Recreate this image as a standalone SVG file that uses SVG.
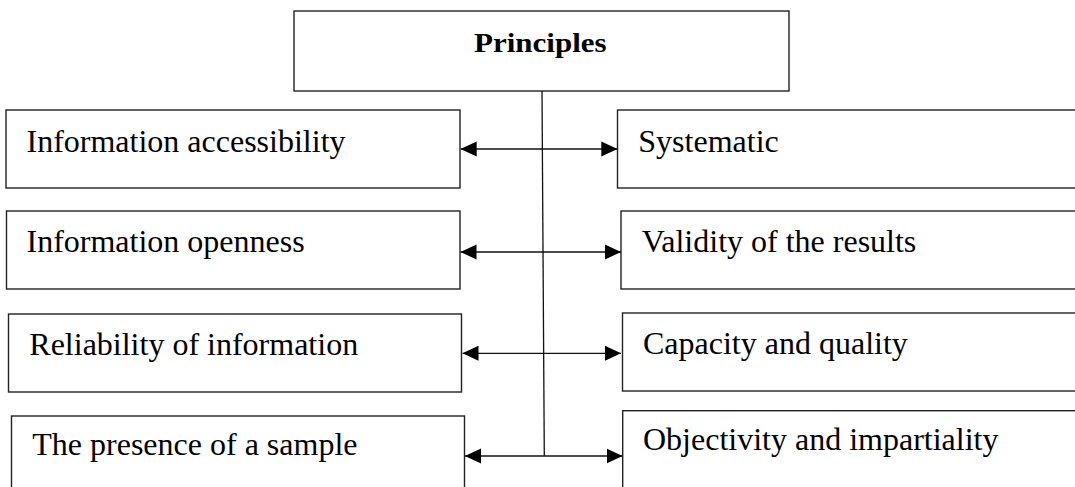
<svg xmlns="http://www.w3.org/2000/svg" width="1075" height="487" viewBox="0 0 1075 487">
<defs>
<style>
.box{fill:#fff;stroke:#222;stroke-width:1.4}
.t{font-family:"Liberation Serif","Times New Roman",serif;font-size:32px;fill:#000}
.b{font-weight:bold;font-size:31px}
.c{stroke:#111;stroke-width:1.3;fill:none}
</style>
<marker id="ah" markerUnits="userSpaceOnUse" markerWidth="16" markerHeight="16" viewBox="0 0 15 14" refX="15" refY="7" orient="auto-start-reverse">
<path d="M0,0 L15,7 L0,14 Z" fill="#000"/>
</marker>
</defs>
<rect width="1075" height="487" fill="#fff"/>
<g id="principles">
<rect class="box" x="294" y="11" width="495" height="80"/>
<text class="t b" transform="translate(540.3,51.7) scale(1,0.9)" x="0" y="0" text-anchor="middle">Principles</text>
</g>
<g id="info-accessibility">
<rect class="box" x="6" y="110" width="454" height="78"/>
<text class="t" x="26.5" y="152">Information accessibility</text>
</g>
<g id="info-openness">
<rect class="box" x="6.5" y="211" width="453.5" height="78"/>
<text class="t" x="26.5" y="252">Information openness</text>
</g>
<g id="reliability">
<rect class="box" x="8.5" y="314" width="453" height="78"/>
<text class="t" x="29.3" y="355">Reliability of information</text>
</g>
<g id="presence">
<rect class="box" x="11.5" y="416" width="453" height="90"/>
<text class="t" x="32.3" y="455">The presence of a sample</text>
</g>
<g id="systematic">
<rect class="box" x="617.5" y="110" width="480" height="78"/>
<text class="t" x="638.3" y="152">Systematic</text>
</g>
<g id="validity">
<rect class="box" x="621" y="211" width="480" height="78"/>
<text class="t" x="641.7" y="252">Validity of the results</text>
</g>
<g id="capacity">
<rect class="box" x="622.5" y="313" width="480" height="78"/>
<text class="t" x="643" y="354">Capacity and quality</text>
</g>
<g id="objectivity">
<rect class="box" x="622.7" y="410.7" width="480" height="90"/>
<text class="t" x="643" y="450">Objectivity and impartiality</text>
</g>
<g id="connectors">
<line class="c" x1="542" y1="91" x2="544.3" y2="456"/>
<line class="c" x1="460.7" y1="149" x2="617.3" y2="149" marker-start="url(#ah)" marker-end="url(#ah)"/>
<line class="c" x1="460.5" y1="252" x2="621" y2="252" marker-start="url(#ah)" marker-end="url(#ah)"/>
<line class="c" x1="462.5" y1="353.3" x2="621" y2="353.3" marker-start="url(#ah)" marker-end="url(#ah)"/>
<line class="c" x1="465" y1="456" x2="622.5" y2="456" marker-start="url(#ah)" marker-end="url(#ah)"/>
</g>
</svg>
